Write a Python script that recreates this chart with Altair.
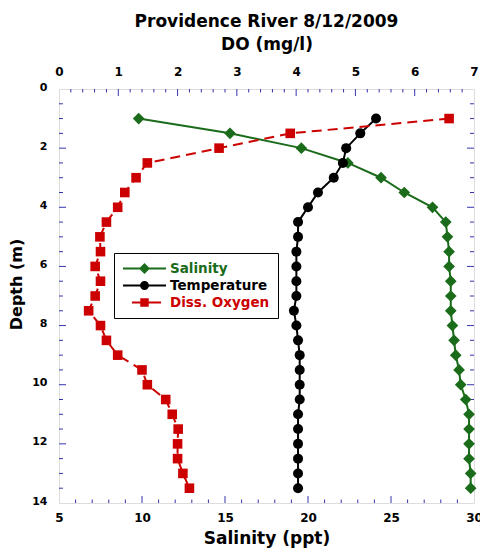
import altair as alt
import pandas as pd

# ---- data ----
depth = [1.0, 1.5, 2.0, 2.5, 3.0, 3.5, 4.0, 4.5, 5.0, 5.5, 6.0, 6.5, 7.0,
         7.5, 8.0, 8.5, 9.0, 9.5, 10.0, 10.5, 11.0, 11.5, 12.0, 12.5, 13.0, 13.5]
salinity = [9.8, 15.3, 19.6, 22.4, 24.4, 25.8, 27.5, 28.3, 28.4, 28.5, 28.5, 28.6, 28.6,
            28.6, 28.7, 28.8, 28.9, 29.1, 29.2, 29.5, 29.7, 29.7, 29.7, 29.7, 29.8, 29.8]
temperature = [24.1, 23.15, 22.3, 22.1, 21.55, 20.6, 20.0, 19.4, 19.4, 19.3, 19.3, 19.3, 19.3,
               19.15, 19.3, 19.4, 19.5, 19.5, 19.5, 19.5, 19.4, 19.4, 19.4, 19.4, 19.4, 19.4]
diss_oxygen = [6.58, 3.9, 2.7, 1.49, 1.3, 1.11, 0.99, 0.8, 0.69, 0.7, 0.61, 0.7, 0.61,
               0.5, 0.7, 0.8, 0.99, 1.4, 1.49, 1.8, 1.91, 2.01, 2.0, 2.0, 2.09, 2.2]

series_names = ["Salinity", "Temperature", "Diss. Oxygen"]

sal_labels = [5, 10, 15, 20, 25, 30]
do_labels = [0, 1, 2, 3, 4, 5, 6, 7]
depth_labels = [0, 2, 4, 6, 8, 10, 12, 14]

# tick positions (axis units)
sal_major_ticks = [10, 15, 20, 25]
sal_minor_ticks = [v for v in range(6, 30) if v % 5 != 0]
do_major_ticks = [1, 2, 3, 4, 5, 6]
do_minor_ticks = [round(i * 0.2, 1) for i in range(1, 35) if i % 5 != 0]
depth_major_ticks = [2, 4, 6, 8, 10, 12]
depth_minor_ticks = [i * 0.5 for i in range(1, 28) if i % 4 != 0]

# ---- styling ----
FONT = "DejaVu Sans"
GREEN = "#1a6b1a"
RED = "#cc0000"
BLACK = "#000000"
AXIS = "#3535ad"
W, H = 415, 414

df = pd.DataFrame({"depth": depth, "salinity": salinity,
                   "temperature": temperature, "do": diss_oxygen})

sal_x = alt.Scale(domain=[5, 30], nice=False, zero=False)
do_x = alt.Scale(domain=[0, 7], nice=False, zero=False)
y_scale = alt.Scale(domain=[0, 14], nice=False, zero=False, reverse=True)

y_axis = alt.Axis(orient="left", values=depth_labels, title="Depth (m)", domain=False,
                  ticks=False, tickSize=0, grid=False, labelFont=FONT, labelFontSize=11,
                  labelFontWeight="bold", labelColor="black", labelPadding=12, labelOffset=-2,
                  titleFont=FONT, titleFontSize=16, titleFontWeight="bold", titleColor="black",
                  titlePadding=7, titleY=195)
Y = alt.Y("depth:Q", scale=y_scale, axis=y_axis)

bottom_axis = alt.Axis(orient="bottom", values=sal_labels, title="Salinity (ppt)", domain=False,
                       ticks=False, tickSize=0, grid=False, labelFont=FONT, labelFontSize=12,
                       labelFontWeight="bold", labelColor="black", labelPadding=9,
                       labelFlush=False, labelOverlap=False,
                       titleFont=FONT, titleFontSize=17, titleFontWeight="bold",
                       titleColor="black", titlePadding=7)
top_axis = alt.Axis(orient="top", values=do_labels, title="DO (mg/l)", domain=False,
                    ticks=False, tickSize=0, grid=False, labelFont=FONT, labelFontSize=12,
                    labelFontWeight="bold", labelColor="black", labelPadding=11,
                    labelFlush=False, labelOverlap=False,
                    titleFont=FONT, titleFontSize=17, titleFontWeight="bold",
                    titleColor="black", titlePadding=12)

sal_layer = alt.Chart(df).mark_line(
    color=GREEN, strokeWidth=2,
    point=alt.OverlayMarkDef(shape="diamond", size=137, filled=True, color=GREEN, opacity=1),
).encode(x=alt.X("salinity:Q", scale=sal_x, axis=bottom_axis), y=Y, order="depth:Q")

temp_layer = alt.Chart(df).mark_line(
    color=BLACK, strokeWidth=2,
    point=alt.OverlayMarkDef(shape="circle", size=100, filled=True, color=BLACK, opacity=1),
).encode(x=alt.X("temperature:Q", scale=sal_x, axis=None), y=Y, order="depth:Q")

do_layer = alt.Chart(df).mark_line(
    color=RED, strokeWidth=2, strokeDash=[10, 6],
    point=alt.OverlayMarkDef(shape="square", size=92, filled=True, color=RED, opacity=1),
).encode(x=alt.X("do:Q", scale=do_x, axis=top_axis), y=Y, order="depth:Q")


def xticks(vals, scale, bottom, length):
    d = pd.DataFrame({"v": vals})
    if bottom:
        yy, yy2 = H, H - length
    else:
        yy, yy2 = 0, length
    return alt.Chart(d).mark_rule(color=AXIS, strokeWidth=1).encode(
        x=alt.X("v:Q", scale=scale, axis=None), y=alt.value(yy), y2=alt.value(yy2))


def yticks(vals, left, length):
    d = pd.DataFrame({"depth": vals})
    if left:
        xx, xx2 = 0, length
    else:
        xx, xx2 = W, W - length
    return alt.Chart(d).mark_rule(color=AXIS, strokeWidth=1).encode(
        y=Y, x=alt.value(xx), x2=alt.value(xx2))


tick_layers = [
    xticks(sal_major_ticks, sal_x, True, 7),
    xticks(sal_minor_ticks, sal_x, True, 3.5),
    xticks(do_major_ticks, do_x, False, 7),
    xticks(do_minor_ticks, do_x, False, 3.5),
    yticks(depth_major_ticks, True, 7),
    yticks(depth_minor_ticks, True, 4),
    yticks(depth_major_ticks, False, 7),
    yticks(depth_minor_ticks, False, 4),
]

# legend (built by the library from a series-name table)
sym_paths = [
    "M-1,0L1,0M0,-0.19L0.19,0L0,0.19L-0.19,0Z",
    "M-1,0L1,0M-0.16,0A0.16,0.16 0 1,0 0.16,0A0.16,0.16 0 1,0 -0.16,0Z",
    "M-0.58,0L0.77,0M-0.15,-0.15L0.15,-0.15L0.15,0.15L-0.15,0.15Z",
]
colors = [GREEN, BLACK, RED]
leg = alt.Legend(
    title=None, orient="none", legendX=55, legendY=164, fillColor="white",
    strokeColor="black", padding=8, cornerRadius=0, labelFont=FONT, labelFontSize=13.5,
    labelFontWeight="bold",
    labelColor=alt.ExprRef(expr=f"datum.label == 'Salinity' ? '{GREEN}' : "
                                f"(datum.label == 'Diss. Oxygen' ? '{RED}' : '{BLACK}')"),
    labelOffset=3, symbolSize=1849, symbolStrokeWidth=2, symbolOpacity=1,
    clipHeight=15, rowPadding=2,
)
legend_df = pd.DataFrame({"series": series_names})
legend_layer = alt.Chart(legend_df).mark_point(filled=True, opacity=0).encode(
    fill=alt.Fill("series:N", scale=alt.Scale(domain=series_names, range=colors), legend=leg),
    stroke=alt.Stroke("series:N", scale=alt.Scale(domain=series_names, range=colors), legend=leg),
    shape=alt.Shape("series:N", scale=alt.Scale(domain=series_names, range=sym_paths), legend=leg),
    x=alt.value(0), y=alt.value(0),
)

chart = alt.layer(
    *tick_layers, sal_layer, temp_layer, do_layer, legend_layer
).resolve_scale(x="independent").properties(
    width=W, height=H,
    title=alt.Title("Providence River 8/12/2009", font=FONT, fontSize=17, fontWeight="bold",
                    color="black", anchor="middle", offset=4),
    autosize=alt.AutoSizeParams(type="none"),
    padding={"left": 59, "top": 89, "right": 6, "bottom": 54},
).configure_view(stroke=AXIS, strokeWidth=1).configure(background="white")

chart.save("out.html", embed_options={"renderer": "svg", "actions": False})
